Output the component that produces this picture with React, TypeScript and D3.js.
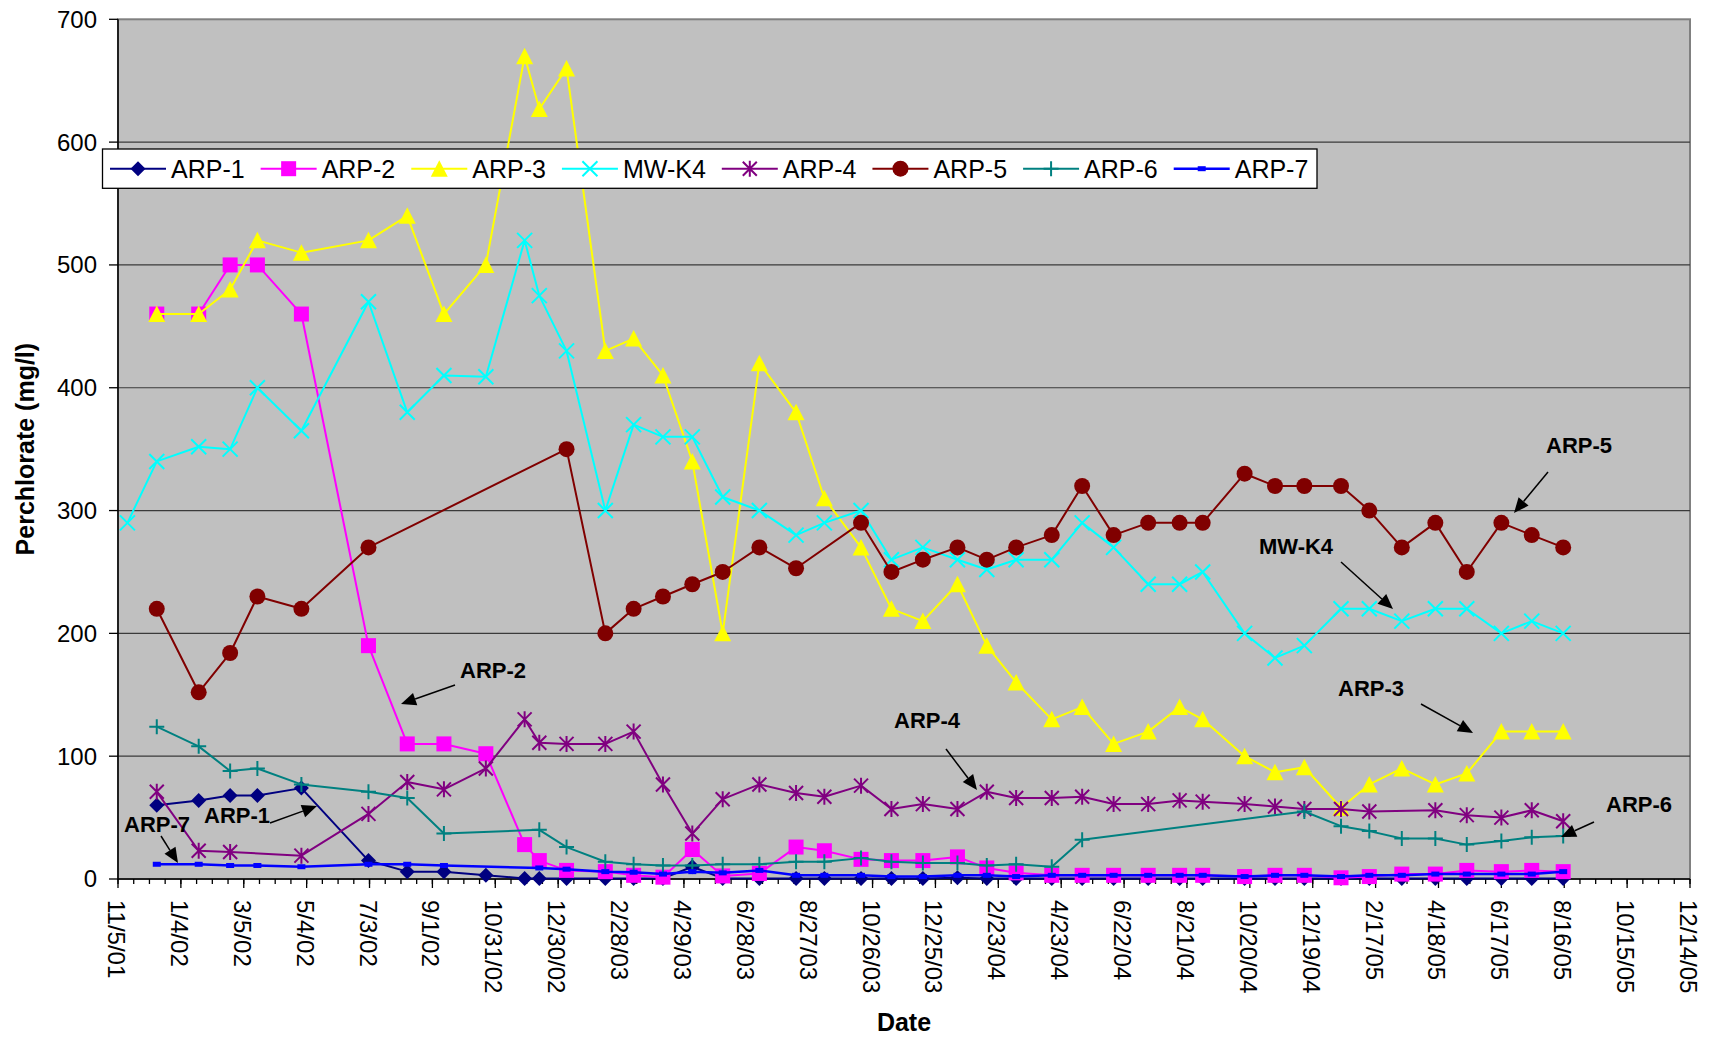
import React, { useEffect, useRef } from "react";
import * as d3 from "d3";

const W = 1710;
const H = 1037;
const FONT = "'Liberation Sans', Arial, Helvetica, sans-serif";

// ---- data ----
const sampleDates = [
  "11/14/01", "12/12/01", "1/21/02", "2/20/02", "3/18/02", "4/29/02", "7/2/02", "8/8/02", "9/12/02", "10/22/02",
  "11/28/02", "12/12/02", "1/7/03", "2/13/03", "3/12/03", "4/9/03", "5/7/03", "6/5/03", "7/10/03", "8/14/03",
  "9/10/03", "10/15/03", "11/13/03", "12/13/03", "1/15/04", "2/12/04", "3/11/04", "4/14/04", "5/13/04", "6/12/04",
  "7/15/04", "8/14/04", "9/5/04", "10/15/04", "11/13/04", "12/11/04", "1/15/05", "2/11/05", "3/14/05", "4/15/05",
  "5/15/05", "6/17/05", "7/16/05", "8/15/05",
];

const arp1 = [null, 60, 64, 68, 68, 74, 15, 6, 6, 3,
  0.5, 0.5, 0.5, 0.5, 0.5, 0.5, 10, 0.5, 0.5, 0.5,
  0.5, 0.5, 0.5, 0.5, 1, 0.5, 0.5, 0.5, 0.5, 0.5,
  0.5, 0.5, 0.5, 0.5, 0.5, 0.5, 0.5, 0.5, 0.5, 0.5,
  0.5, 0.5, 0.5, 0.5];
const arp2 = [null, 460, 460, 500, 500, 460, 190, 110, 110, 102,
  28, 15, 7, 6, 3, 1.5, 24, 2.5, 4.5, 26,
  23, 16, 15, 15, 18, 9, 5, 3, 3, 3,
  3, 3, 3, 2, 3, 3, 1, 2, 4, 4,
  7, 6, 7, 6];
const arp3 = [null, 460, 460, 480, 520, 510, 520, 540, 460, 500,
  670, 627, 660, 430, 440, 410, 340, 200, 420, 380,
  310, 270, 220, 210, 240, 190, 160, 130, 140, 110,
  120, 140, 130, 100, 87, 91, 58, 77, 90, 77,
  86, 120, 120, 120];
const mwk4 = [290, 340, 352, 350, 400, 365, 470, 380, 410, 409,
  520, 475, 430, 300, 370, 360, 360, 311, 300, 280,
  290, 300, 260, 270, 260, 252, 260, 260, 290, 270,
  240, 240, 250, 200, 180, 190, 220, 220, 210, 220,
  220, 200, 210, 200];
const arp4 = [null, 71, 23, 22, null, 19, 53, 79, 73, 90,
  130, 111, 110, 110, 120, 77, 37, 65, 77, 70,
  67, 76, 57, 61, 57, 71, 66, 66, 67, 61,
  61, 64, 63, 61, 59, 57, 57, 55, null, 56,
  52, 50, 56, 47];
const arp5 = [null, 220, 152, 184, 230, 220, 270, null, null, null,
  null, null, 350, 200, 220, 230, 240, 250, 270, 253,
  null, 290, 250, 260, 270, 260, 270, 280, 320, 280,
  290, 290, 290, 330, 320, 320, 320, 300, 270, 290,
  250, 290, 280, 270];
const arp6 = [null, 124, 108, 88, 90, 77, 71, 66, 37, null,
  null, 40, 26, 14, 12, 11, 11, 12, 12, 14,
  14, 17, 14, 13, 13, 11, 12, 10, 32, null,
  null, null, null, null, null, 55, 43, 39, 33, 33,
  28, 31, 34, 35];
const arp7 = [null, 12, 12, 11, 11, 10, 12, 12, 11, null,
  null, 9, 8, 6, 5.5, 4, 6, 5, 7, 3,
  3, 3, 2, 2, 3, 3, 2, 3, 3, 3,
  3, 3, 3, 2, 3, 3, 2, 3, 3, 4,
  4, 4, 4, 6];

const seriesNames = ["ARP-1", "ARP-2", "ARP-3", "MW-K4", "ARP-4", "ARP-5", "ARP-6", "ARP-7"];
const seriesValues = [arp1, arp2, arp3, mwk4, arp4, arp5, arp6, arp7];

const xTickLabels = [
  "11/5/01", "1/4/02", "3/5/02", "5/4/02", "7/3/02", "9/1/02", "10/31/02", "12/30/02", "2/28/03",
  "4/29/03", "6/28/03", "8/27/03", "10/26/03", "12/25/03", "2/23/04", "4/23/04", "6/22/04", "8/21/04",
  "10/20/04", "12/19/04", "2/17/05", "4/18/05", "6/17/05", "8/16/05", "10/15/05", "12/14/05",
];
const yTicks = [0, 100, 200, 300, 400, 500, 600, 700];

// ---- styles ----
const seriesColors = ["#000080", "#FF00FF", "#FFFF00", "#00FFFF", "#800080", "#800000", "#008080", "#0000FF"];
const seriesMarkers = ["diamond", "square", "triangle", "x", "star", "circle", "plus", "smallsquare"];
const seriesWidths = [2, 2, 2, 2, 2, 2, 2, 2.5];

// annotation layout (pixels)
const annotations = [
  { text: "ARP-2", tx: 460, ty: 678, from: [455, 685], to: [401, 704] },
  { text: "ARP-1", tx: 204, ty: 823, from: [270, 823], to: [317, 806] },
  { text: "ARP-7", tx: 124, ty: 832, from: [161, 836], to: [178, 863] },
  { text: "ARP-4", tx: 894, ty: 728, from: [946, 749], to: [977, 790] },
  { text: "ARP-5", tx: 1546, ty: 453, from: [1548, 472], to: [1514, 513] },
  { text: "MW-K4", tx: 1259, ty: 554, from: [1341, 562], to: [1393, 609] },
  { text: "ARP-3", tx: 1338, ty: 696, from: [1421, 704], to: [1473, 733] },
  { text: "ARP-6", tx: 1606, ty: 812, from: [1594, 822], to: [1561, 837] },
];

function drawMarker(g: any, type: string, cx: number, cy: number, color: string) {
  if (type === "diamond") {
    const s = 7.5;
    g.append("path").attr("d", `M${cx},${cy - s}L${cx + s},${cy}L${cx},${cy + s}L${cx - s},${cy}Z`).attr("fill", color);
  } else if (type === "square") {
    g.append("rect").attr("x", cx - 7.5).attr("y", cy - 7.5).attr("width", 15).attr("height", 15).attr("fill", color);
  } else if (type === "triangle") {
    g.append("path").attr("d", `M${cx},${cy - 8.5}L${cx + 8.5},${cy + 8}L${cx - 8.5},${cy + 8}Z`).attr("fill", color);
  } else if (type === "x") {
    const s = 7.5;
    g.append("path").attr("d", `M${cx - s},${cy - s}L${cx + s},${cy + s}M${cx - s},${cy + s}L${cx + s},${cy - s}`)
      .attr("stroke", color).attr("stroke-width", 2).attr("fill", "none");
  } else if (type === "star") {
    const s = 7;
    g.append("path").attr("d", `M${cx - s},${cy - s}L${cx + s},${cy + s}M${cx - s},${cy + s}L${cx + s},${cy - s}M${cx},${cy - 8}L${cx},${cy + 8}`)
      .attr("stroke", color).attr("stroke-width", 2).attr("fill", "none");
  } else if (type === "circle") {
    g.append("circle").attr("cx", cx).attr("cy", cy).attr("r", 8).attr("fill", color);
  } else if (type === "plus") {
    const s = 7.5;
    g.append("path").attr("d", `M${cx - s},${cy}L${cx + s},${cy}M${cx},${cy - s}L${cx},${cy + s}`)
      .attr("stroke", color).attr("stroke-width", 2).attr("fill", "none");
  } else if (type === "smallsquare") {
    g.append("rect").attr("x", cx - 4).attr("y", cy - 2.5).attr("width", 8).attr("height", 5).attr("fill", color);
  }
}

export default function App() {
  const ref = useRef<SVGSVGElement>(null);

  useEffect(() => {
    document.body.style.margin = "0";
    const svg = d3.select(ref.current!);
    svg.selectAll("*").remove();

    const parse = d3.utcParse("%m/%d/%y");
    const L = 118, R = 1690, T = 19.3, B = 879;
    const start = parse(xTickLabels[0])!;
    const end = parse(xTickLabels[xTickLabels.length - 1])!;
    const x = d3.scaleUtc().domain([start, end]).range([L, R]);
    const y = d3.scaleLinear().domain([0, 700]).range([B, T]);

    svg.append("rect").attr("width", W).attr("height", H).attr("fill", "#ffffff");

    // plot area
    svg.append("rect").attr("x", L).attr("y", T).attr("width", R - L).attr("height", B - T)
      .attr("fill", "#C0C0C0").attr("stroke", "#808080").attr("stroke-width", 2);

    // gridlines
    const grid = svg.append("g");
    yTicks.filter((v) => v > 0 && v < 700).forEach((v) => {
      grid.append("line").attr("x1", L).attr("x2", R).attr("y1", y(v)).attr("y2", y(v))
        .attr("stroke", "#3a3a3a").attr("stroke-width", 1.2);
    });

    // axes
    const ax = svg.append("g");
    ax.append("line").attr("x1", L).attr("x2", L).attr("y1", T).attr("y2", B).attr("stroke", "#000").attr("stroke-width", 1.5);
    ax.append("line").attr("x1", L).attr("x2", R).attr("y1", B).attr("y2", B).attr("stroke", "#000").attr("stroke-width", 1.5);

    yTicks.forEach((v) => {
      ax.append("line").attr("x1", L - 9).attr("x2", L).attr("y1", y(v)).attr("y2", y(v)).attr("stroke", "#000").attr("stroke-width", 1.3);
      ax.append("text").attr("x", 97).attr("y", y(v)).attr("dy", "0.35em").attr("text-anchor", "end")
        .attr("font-family", FONT).attr("font-size", 24).attr("fill", "#000").text(String(v));
    });

    // minor ticks every 15 days
    const totalDays = d3.utcDay.count(start, end);
    d3.range(0, totalDays + 1, 15).forEach((d) => {
      const xx = x(d3.utcDay.offset(start, d));
      ax.append("line").attr("x1", xx).attr("x2", xx).attr("y1", B).attr("y2", B + 5).attr("stroke", "#000").attr("stroke-width", 1.3);
    });
    xTickLabels.forEach((lab) => {
      const xx = x(parse(lab)!);
      ax.append("line").attr("x1", xx).attr("x2", xx).attr("y1", B).attr("y2", B + 9).attr("stroke", "#000").attr("stroke-width", 1.3);
      ax.append("text").attr("transform", `translate(${xx - 10},${900}) rotate(90)`)
        .attr("font-family", FONT).attr("font-size", 24).attr("fill", "#000").text(lab);
    });

    // series
    const dates = sampleDates.map((s) => parse(s)!);
    seriesValues.forEach((vals, i) => {
      const pts = dates.map((d, j) => ({ d, v: vals[j] })).filter((p) => p.v !== null && p.v !== undefined) as { d: Date; v: number }[];
      const g = svg.append("g");
      const line = d3.line<{ d: Date; v: number }>().x((p) => x(p.d)).y((p) => y(p.v));
      g.append("path").attr("d", line(pts)!).attr("fill", "none").attr("stroke", seriesColors[i])
        .attr("stroke-width", seriesWidths[i]).attr("stroke-linejoin", "round");
      pts.forEach((p) => drawMarker(g, seriesMarkers[i], x(p.d), y(p.v), seriesColors[i]));
    });

    // legend
    const lg = svg.append("g");
    lg.append("rect").attr("x", 102.5).attr("y", 149).attr("width", 1214.5).attr("height", 39.3)
      .attr("fill", "#fff").attr("stroke", "#000").attr("stroke-width", 1.3);
    let cx = 110;
    const ly = 168.7;
    seriesNames.forEach((name, i) => {
      lg.append("line").attr("x1", cx).attr("x2", cx + 56).attr("y1", ly).attr("y2", ly)
        .attr("stroke", seriesColors[i]).attr("stroke-width", seriesWidths[i]);
      drawMarker(lg, seriesMarkers[i], cx + 28, ly, seriesColors[i]);
      const t = lg.append("text").attr("x", cx + 61).attr("y", 178.3).attr("font-family", FONT)
        .attr("font-size", 25).attr("fill", "#000").text(name);
      const w = (t.node() as SVGTextElement).getComputedTextLength();
      cx = cx + 61 + w + 16;
    });

    // annotations
    const an = svg.append("g");
    annotations.forEach((a) => {
      an.append("text").attr("x", a.tx).attr("y", a.ty).attr("font-family", FONT).attr("font-weight", "bold")
        .attr("font-size", 22).attr("fill", "#000").text(a.text);
      const [x1, y1] = a.from;
      const [x2, y2] = a.to;
      const ang = Math.atan2(y2 - y1, x2 - x1);
      const len = 15, hw = 6.5;
      const bx = x2 - len * Math.cos(ang), by = y2 - len * Math.sin(ang);
      an.append("line").attr("x1", x1).attr("y1", y1).attr("x2", bx).attr("y2", by).attr("stroke", "#000").attr("stroke-width", 1.5);
      const px = -Math.sin(ang), py = Math.cos(ang);
      an.append("path").attr("d", `M${x2},${y2}L${bx + px * hw},${by + py * hw}L${bx - px * hw},${by - py * hw}Z`).attr("fill", "#000");
    });

    // axis titles
    svg.append("text").attr("transform", `translate(34,${(T + B) / 2}) rotate(-90)`).attr("text-anchor", "middle")
      .attr("font-family", FONT).attr("font-weight", "bold").attr("font-size", 25).attr("fill", "#000").text("Perchlorate (mg/l)");
    svg.append("text").attr("x", (L + R) / 2).attr("y", 1031).attr("text-anchor", "middle")
      .attr("font-family", FONT).attr("font-weight", "bold").attr("font-size", 25).attr("fill", "#000").text("Date");
  }, []);

  return <svg ref={ref} width={W} height={H} style={{ display: "block", position: "absolute", left: 0, top: 0 }} />;
}
